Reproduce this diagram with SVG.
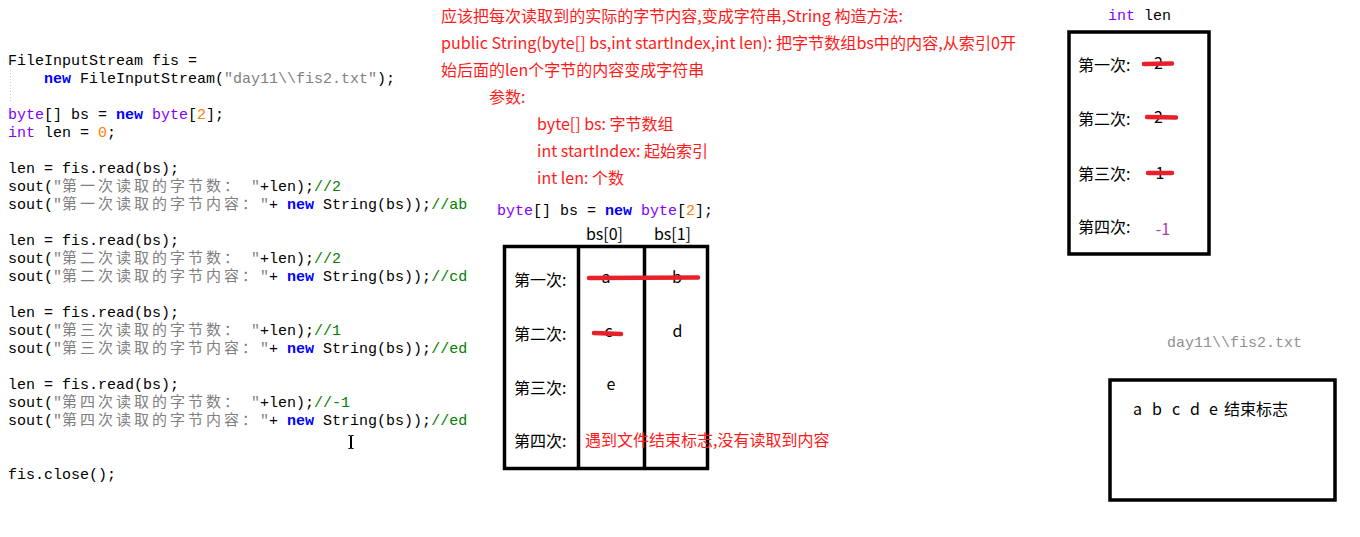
<svg xmlns="http://www.w3.org/2000/svg" width="1360" height="537" viewBox="0 0 1360 537">
<style>
.mono{font-family:"Liberation Mono","DejaVu Sans Mono",monospace;font-size:15px;fill:#000}
.kw{fill:#0000ff;font-weight:bold}
.ty{fill:#8000ff}
.num{fill:#ff8000}
.str{fill:#808080}
.cm{fill:#008000}
.cjk{font-family:"Noto Sans CJK SC",sans-serif;font-size:15px;fill:#808080;letter-spacing:3px}
.lbl{font-family:"Noto Sans CJK SC","Noto Sans",sans-serif;font-size:16px;fill:#000}
.note{font-family:"Noto Sans CJK SC","Noto Sans",sans-serif;font-size:16px;fill:#ff1a1a}
.box{fill:none;stroke:#000;stroke-width:3.5}
.strike{stroke:#e8202a;stroke-width:4.5;stroke-linecap:round}
</style>
<rect width="1360" height="537" fill="#fff"/>

<g id="code">
<line x1="10.5" y1="70" x2="10.5" y2="103" stroke="#c8c8c8" stroke-dasharray="1 2"/>
<text class="mono" x="8" y="65" xml:space="preserve">FileInputStream fis =</text>
<text class="mono" x="8" y="83" xml:space="preserve">    <tspan class="kw">new</tspan> FileInputStream(<tspan class="str">"day11\\fis2.txt"</tspan>);</text>
<text class="mono" x="8" y="119" xml:space="preserve"><tspan class="ty">byte</tspan>[] bs = <tspan class="kw">new</tspan> <tspan class="ty">byte</tspan>[<tspan class="num">2</tspan>];</text>
<text class="mono" x="8" y="137" xml:space="preserve"><tspan class="ty">int</tspan> len = <tspan class="num">0</tspan>;</text>

<text class="mono" x="8" y="173" xml:space="preserve">len = fis.read(bs);</text>
<text class="mono" x="8" y="191" xml:space="preserve">sout(<tspan class="str">"<tspan class="cjk">第一次读取的字节数：</tspan> "</tspan>+len);<tspan class="cm">//2</tspan></text>
<text class="mono" x="8" y="209" xml:space="preserve">sout(<tspan class="str">"<tspan class="cjk">第一次读取的字节内容：</tspan>"</tspan>+ <tspan class="kw">new</tspan> String(bs));<tspan class="cm">//ab</tspan></text>

<text class="mono" x="8" y="245" xml:space="preserve">len = fis.read(bs);</text>
<text class="mono" x="8" y="263" xml:space="preserve">sout(<tspan class="str">"<tspan class="cjk">第二次读取的字节数：</tspan> "</tspan>+len);<tspan class="cm">//2</tspan></text>
<text class="mono" x="8" y="281" xml:space="preserve">sout(<tspan class="str">"<tspan class="cjk">第二次读取的字节内容：</tspan>"</tspan>+ <tspan class="kw">new</tspan> String(bs));<tspan class="cm">//cd</tspan></text>

<text class="mono" x="8" y="317" xml:space="preserve">len = fis.read(bs);</text>
<text class="mono" x="8" y="335" xml:space="preserve">sout(<tspan class="str">"<tspan class="cjk">第三次读取的字节数：</tspan> "</tspan>+len);<tspan class="cm">//1</tspan></text>
<text class="mono" x="8" y="353" xml:space="preserve">sout(<tspan class="str">"<tspan class="cjk">第三次读取的字节内容：</tspan>"</tspan>+ <tspan class="kw">new</tspan> String(bs));<tspan class="cm">//ed</tspan></text>

<text class="mono" x="8" y="389" xml:space="preserve">len = fis.read(bs);</text>
<text class="mono" x="8" y="407" xml:space="preserve">sout(<tspan class="str">"<tspan class="cjk">第四次读取的字节数：</tspan> "</tspan>+len);<tspan class="cm">//-1</tspan></text>
<text class="mono" x="8" y="425" xml:space="preserve">sout(<tspan class="str">"<tspan class="cjk">第四次读取的字节内容：</tspan>"</tspan>+ <tspan class="kw">new</tspan> String(bs));<tspan class="cm">//ed</tspan></text>

<text class="mono" x="8" y="479" xml:space="preserve">fis.close();</text>
<path d="M348.5 435.5h2v13h-2M353.5 435.5h-2v13h2M351 436v12" fill="none" stroke="#000" stroke-width="1"/>
</g>

<g id="notes">
<text class="note" x="441" y="22" textLength="462" lengthAdjust="spacingAndGlyphs">应该把每次读取到的实际的字节内容,变成字符串,String 构造方法:</text>
<text class="note" x="441" y="49" textLength="575" lengthAdjust="spacingAndGlyphs">public String(byte[] bs,int startIndex,int len): 把字节数组bs中的内容,从索引0开</text>
<text class="note" x="441" y="76">始后面的len个字节的内容变成字符串</text>
<text class="note" x="489" y="103">参数:</text>
<text class="note" x="537" y="130">byte[] bs: 字节数组</text>
<text class="note" x="537" y="157">int startIndex: 起始索引</text>
<text class="note" x="537" y="184">int len: 个数</text>
</g>

<g id="array-table">
<text class="mono" x="497" y="215" xml:space="preserve"><tspan class="ty">byte</tspan>[] bs = <tspan class="kw">new</tspan> <tspan class="ty">byte</tspan>[<tspan class="num">2</tspan>];</text>
<text class="lbl" x="604.5" y="240" text-anchor="middle">bs[0]</text>
<text class="lbl" x="672.5" y="240" text-anchor="middle">bs[1]</text>
<rect class="box" x="504.5" y="246.5" width="203" height="222"/>
<line x1="578.5" y1="246.5" x2="578.5" y2="468.5" stroke="#000" stroke-width="3.5"/>
<line x1="644.5" y1="246.5" x2="644.5" y2="468.5" stroke="#000" stroke-width="3.5"/>
<text class="lbl" x="514" y="286">第一次:</text>
<text class="lbl" x="514" y="340">第二次:</text>
<text class="lbl" x="514" y="394">第三次:</text>
<text class="lbl" x="514" y="447">第四次:</text>
<text class="lbl" x="606" y="283" text-anchor="middle">a</text>
<text class="lbl" x="677" y="283" text-anchor="middle">b</text>
<text class="lbl" x="608.5" y="337" text-anchor="middle">c</text>
<text class="lbl" x="677.5" y="337" text-anchor="middle">d</text>
<text class="lbl" x="611" y="390" text-anchor="middle">e</text>
<text class="note" x="585" y="446">遇到文件结束标志,没有读取到内容</text>
</g>

<g id="len-box">
<text class="mono" x="1108" y="20" xml:space="preserve"><tspan class="ty">int</tspan> len</text>
<rect class="box" x="1069" y="32" width="140" height="222"/>
<text class="lbl" x="1078" y="71">第一次:</text>
<text class="lbl" x="1078" y="125">第二次:</text>
<text class="lbl" x="1078" y="180">第三次:</text>
<text class="lbl" x="1078" y="233">第四次:</text>
<text class="lbl" x="1158.5" y="69" text-anchor="middle">2</text>
<text class="lbl" x="1158.5" y="123" text-anchor="middle">2</text>
<text class="lbl" x="1160" y="179" text-anchor="middle">1</text>
<text class="lbl" x="1163" y="235" text-anchor="middle" style="fill:#b03cb0">-1</text>
</g>

<g id="file-box">
<text class="mono" x="1167" y="347" style="fill:#909090">day11\\fis2.txt</text>
<rect class="box" x="1110" y="380" width="225" height="120"/>
<text class="lbl" y="415"><tspan x="1133">a</tspan><tspan x="1152">b</tspan><tspan x="1172">c</tspan><tspan x="1190">d</tspan><tspan x="1209">e</tspan><tspan x="1224">结束标志</tspan></text>
</g>

<g id="connectors">
<line class="strike" x1="589" y1="278" x2="698" y2="277.5"/>
<line class="strike" x1="594" y1="333" x2="621" y2="334"/>
<line class="strike" x1="1144" y1="64" x2="1172" y2="63.5"/>
<line class="strike" x1="1147" y1="117" x2="1176" y2="117.5"/>
<line class="strike" x1="1148" y1="173" x2="1172" y2="173"/>
</g>
</svg>
